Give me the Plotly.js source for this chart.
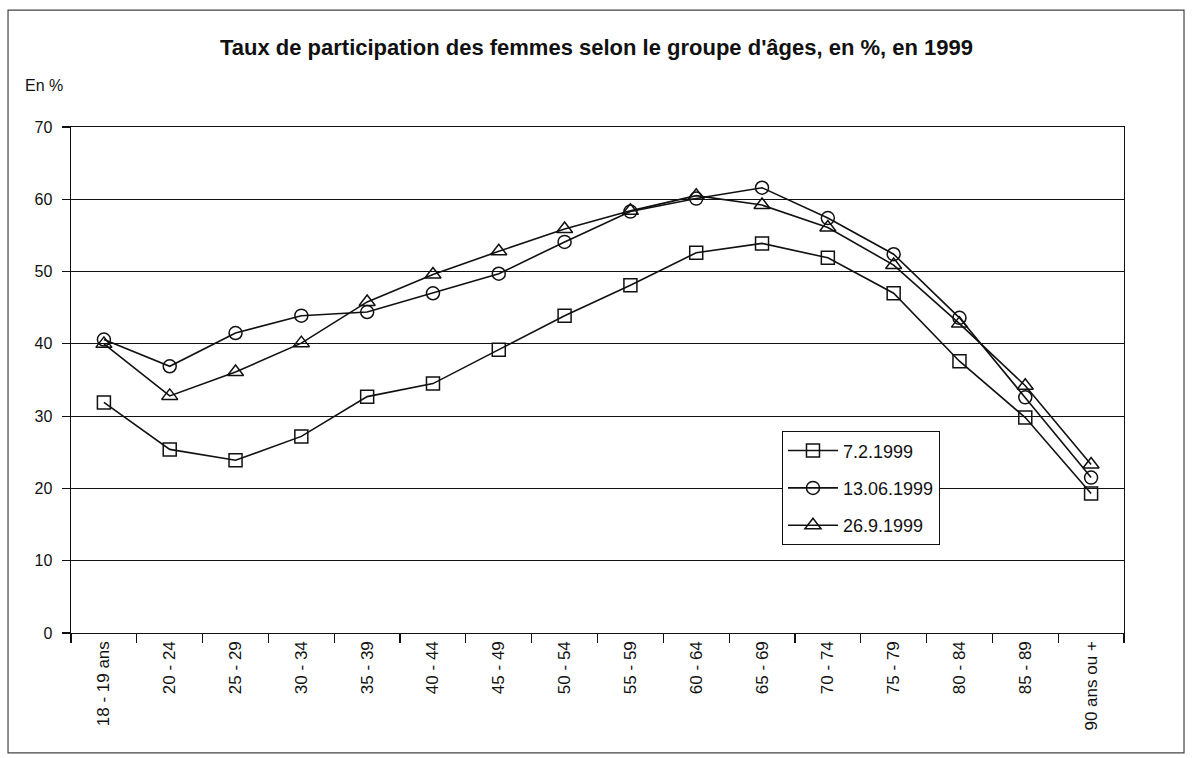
<!DOCTYPE html>
<html>
<head>
<meta charset="utf-8">
<script src="https://cdn.plot.ly/plotly-3.0.1.min.js"></script>
<style>html,body{margin:0;padding:0;background:#fff;}#chart{width:1193px;height:758px;}</style>
</head>
<body>
<div id="chart"></div>
<script>
const categories = ["18 - 19 ans","20 - 24","25 - 29","30 - 34","35 - 39","40 - 44","45 - 49","50 - 54","55 - 59","60 - 64","65 - 69","70 - 74","75 - 79","80 - 84","85 - 89","90 ans ou +"];
const seriesNames = ["7.2.1999","13.06.1999","26.9.1999"];
const feb = [31.9,25.4,23.9,27.2,32.7,34.5,39.2,43.9,48.1,52.6,53.9,51.9,47.0,37.6,29.8,19.3];
const jun = [40.6,36.9,41.5,43.9,44.4,47.0,49.7,54.1,58.3,60.1,61.6,57.4,52.4,43.6,32.6,21.5];
const sep = [40.0,32.8,36.1,40.1,45.8,49.6,52.8,55.9,58.4,60.5,59.2,56.1,50.9,42.8,34.2,23.3];

const symbols = ["square-open","circle-open","triangle-up-open"];
const allData = [feb, jun, sep];
const traces = allData.map((vals, i) => ({
  type: "scatter",
  mode: "lines+markers",
  name: seriesNames[i],
  legendgroup: "g" + i,
  x: categories,
  y: vals,
  line: {color: "#111", width: 1.6},
  marker: {symbol: symbols[i], size: i === 2 ? 14 : 13, color: "#111", line: {color: "#111", width: 1.5}}
}));

const font = "Liberation Sans, Arial, sans-serif";
const layout = {
  width: 1193, height: 758,
  margin: {l: 71, r: 69, t: 127, b: 125},
  paper_bgcolor: "#fff", plot_bgcolor: "#fff",
  font: {family: font, color: "#111", size: 16},
  title: {text: "<b>Taux de participation des femmes selon le groupe d'âges, en %, en 1999</b>",
          font: {family: font, size: 22, color: "#111"}, x: 0.5, xanchor: "center", y: 0.937, yanchor: "middle"},
  xaxis: {type: "category", range: [-0.5, 15.5], tickangle: -90, tickson: "boundaries", ticks: "outside", ticklen: 9,
          tickcolor: "#111", tickwidth: 1.2, showline: true, mirror: true, linecolor: "#111", linewidth: 1.4,
          showgrid: false, zeroline: false, tickfont: {size: 17, family: font}, fixedrange: true},
  yaxis: {range: [0, 70], dtick: 10, ticks: "outside", ticklen: 8, tickcolor: "#111", tickwidth: 1.2,
          ticklabelstandoff: 6,
          showline: true, mirror: true, linecolor: "#111", linewidth: 1.4,
          showgrid: true, gridcolor: "#111", gridwidth: 1.2, zeroline: false,
          tickfont: {size: 16, family: font}, fixedrange: true},
  legend: {x: 0.675, y: 0.399, xanchor: "left", yanchor: "top", bgcolor: "#fff",
           bordercolor: "#111", borderwidth: 1.2, font: {size: 18, family: font, color: "#111"},
           traceorder: "grouped", tracegroupgap: 11, itemwidth: 50},
  showlegend: true,
  shapes: [{type: "rect", xref: "paper", yref: "paper", x0: -0.0598, x1: 1.057, y0: -0.237, y1: 1.231,
            line: {color: "#444", width: 1.2}}],
  annotations: [{text: "En %", xref: "paper", yref: "paper", x: -0.0456, y: 1.083, xanchor: "left", yanchor: "middle",
                 showarrow: false, font: {size: 16, family: font, color: "#111"}}]
};
Plotly.newPlot("chart", traces, layout, {displayModeBar: false, staticPlot: true});
</script>
</body>
</html>
